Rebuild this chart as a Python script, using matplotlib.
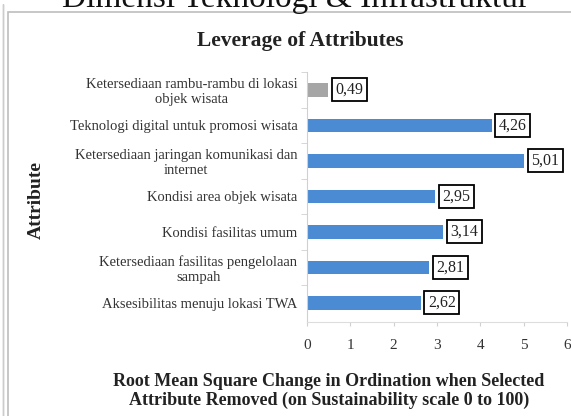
import matplotlib.pyplot as plt
import matplotlib.patches as patches

# Attribute names (bottom to top) and their leverage values
ATTRIBUTES = [
    'Aksesibilitas menuju lokasi TWA',
    'Ketersediaan fasilitas pengelolaan\nsampah',
    'Kondisi fasilitas umum',
    'Kondisi area objek wisata',
    'Ketersediaan jaringan komunikasi dan\ninternet',
    'Teknologi digital untuk promosi wisata',
    'Ketersediaan rambu-rambu di lokasi\nobjek wisata',
]
VALUES = [2.62, 2.81, 3.14, 2.95, 5.01, 4.26, 0.49]
BAR_COLORS = ['#4a8bd3'] * 6 + ['#a6a6a6']
X_TICKS = [0, 1, 2, 3, 4, 5, 6]

plt.rcParams['font.family'] = ['Liberation Serif', 'DejaVu Serif']

W, H = 571, 416
fig = plt.figure(figsize=(W / 100, H / 100), dpi=100)
ax = fig.add_axes([307 / W, 1 - 322 / H, 260 / W, 250 / H])

ypos = list(range(len(ATTRIBUTES)))
ax.barh(ypos, VALUES, height=0.38, color=BAR_COLORS)

for y, v in zip(ypos, VALUES):
    ax.text(v + 0.17, y, f'{v:.2f}'.replace('.', ','), va='center', ha='left',
            fontsize=11.5, color='#222222',
            bbox=dict(boxstyle='square,pad=0.22', fc='white', ec='black', lw=1.3))

ax.set_xlim(0, 6)
ax.set_ylim(-0.54, 6.5)
ax.set_xticks(X_TICKS)
ax.set_xticklabels([str(t) for t in X_TICKS], fontsize=11, color='#333333')
ax.set_yticks(ypos)
ax.set_yticklabels(ATTRIBUTES, fontsize=10.5, color='#333333', linespacing=1.2,
                   multialignment='center')
ax.set_yticks([p + 0.5 for p in ypos[:-1]] + [6.5], minor=True)
ax.tick_params(axis='x', length=3, color='#d0d0d0', pad=9)
ax.tick_params(axis='y', which='major', length=0, pad=7)
ax.tick_params(axis='y', which='minor', length=4, color='#d0d0d0')
for side in ['top', 'right']:
    ax.spines[side].set_visible(False)
ax.spines['left'].set_color('#d0d0d0')
ax.spines['bottom'].set_color('#dddddd')

# titles and axis labels
fig.text(300 / W, 1 - 41 / H, 'Leverage of Attributes', ha='center', va='center',
         fontsize=15.5, fontweight='bold', color='#222222')
fig.text(36 / W, 1 - 200 / H, 'Attribute', ha='center', va='center', rotation=90,
         fontsize=14, fontweight='bold', color='#222222')
fig.text(329 / W, 1 - 391 / H,
         'Root Mean Square Change in Ordination when Selected\n'
         'Attribute Removed (on Sustainability scale 0 to 100)',
         ha='center', va='center', fontsize=13, fontweight='bold', color='#222222',
         linespacing=1.15)

# cut-off heading above the chart
fig.text(295 / W, 1 - 7 / H, 'Dimensi Teknologi & Infrastruktur', ha='center',
         va='baseline', fontsize=24, color='#111111')

# frame around the chart
fig.patches.append(patches.Rectangle((8 / W, -0.01), 1, 1 - 12 / H + 0.01,
                                     transform=fig.transFigure, fill=False,
                                     ec='#bdbdbd', lw=1.2))
fig.patches.append(patches.Rectangle((3 / W, -0.01), 0, 1,
                                     transform=fig.transFigure, fill=False,
                                     ec='#cccccc', lw=1.0))

fig.savefig('out.png', dpi=100)
